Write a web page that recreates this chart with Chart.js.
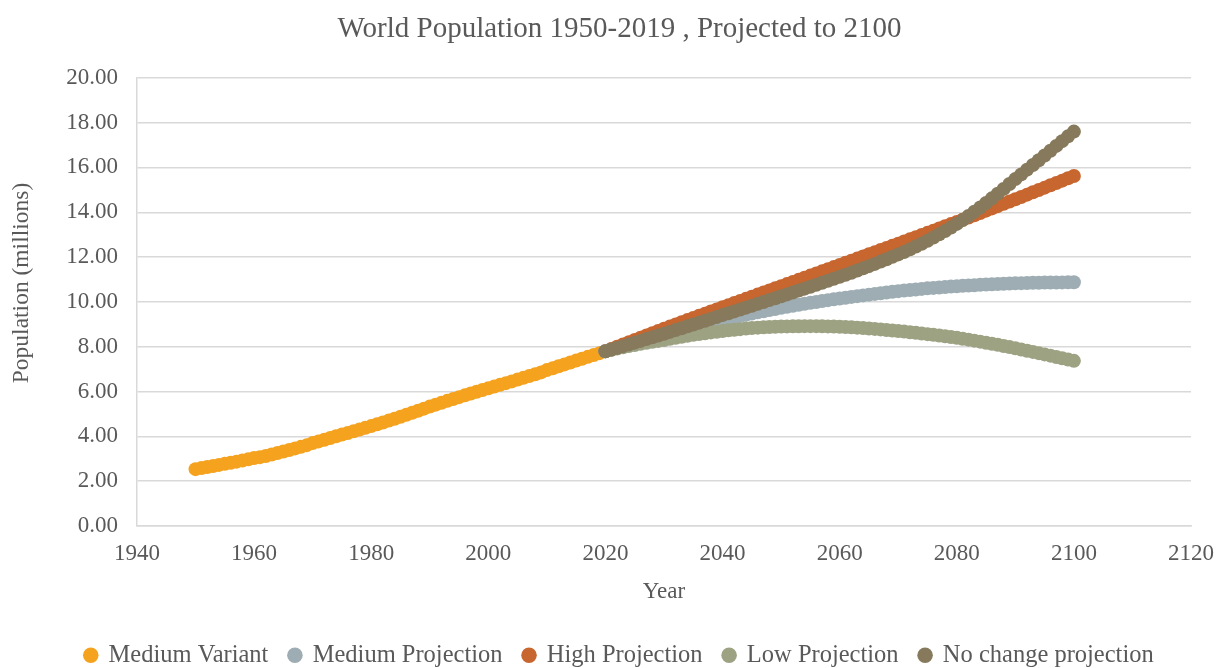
<!DOCTYPE html>
<html>
<head>
<meta charset="utf-8">
<title>World Population 1950-2019, Projected to 2100</title>
<script src="https://cdn.jsdelivr.net/npm/chart.js@4.4.1/dist/chart.umd.min.js"></script>
<style>
  html, body { margin: 0; padding: 0; background: #ffffff; }
  #wrap { width: 1219px; height: 668px; }
</style>
</head>
<body>
<div id="wrap"><canvas id="chart" width="1219" height="668"></canvas></div>
<script>
// World population in billions (UN estimates 1950-2019, projections 2020-2100)
const HIST_START = 1950;
const PROJ_START = 2020;

const mediumVariant = [
  2.536, 2.584, 2.631, 2.678, 2.726, 2.773, 2.822, 2.872, 2.923, 2.974,
  3.032, 3.073, 3.126, 3.190, 3.255, 3.322, 3.393, 3.462, 3.532, 3.607,
  3.700, 3.775, 3.851, 3.927, 4.003, 4.079, 4.153, 4.227, 4.302, 4.379,
  4.458, 4.538, 4.621, 4.704, 4.788, 4.874, 4.963, 5.054, 5.145, 5.237,
  5.327, 5.414, 5.500, 5.584, 5.668, 5.749, 5.830, 5.910, 5.989, 6.066,
  6.143, 6.221, 6.298, 6.375, 6.453, 6.532, 6.611, 6.691, 6.772, 6.853,
  6.957, 7.041, 7.126, 7.211, 7.296, 7.380, 7.464, 7.548, 7.631, 7.713
];

const mediumProjection = [
  7.795,
  7.875, 7.954, 8.031, 8.108, 8.184, 8.258, 8.332, 8.405, 8.477, 8.548,
  8.617, 8.686, 8.754, 8.821, 8.888, 8.951, 9.014, 9.076, 9.138, 9.199,
  9.257, 9.315, 9.372, 9.427, 9.482, 9.534, 9.586, 9.636, 9.686, 9.735,
  9.781, 9.827, 9.871, 9.915, 9.958, 9.998, 10.038, 10.077, 10.115, 10.152,
  10.187, 10.222, 10.256, 10.290, 10.324, 10.356, 10.388, 10.419, 10.450, 10.480,
  10.506, 10.531, 10.556, 10.580, 10.604, 10.624, 10.644, 10.663, 10.682, 10.700,
  10.716, 10.731, 10.746, 10.761, 10.775, 10.787, 10.798, 10.809, 10.819, 10.829,
  10.836, 10.843, 10.850, 10.856, 10.862, 10.865, 10.868, 10.871, 10.873, 10.875
];

const highProjection = [
  7.795,
  7.897, 7.999, 8.100, 8.201, 8.301, 8.401, 8.501, 8.601, 8.701, 8.800,
  8.898, 8.995, 9.092, 9.188, 9.284, 9.380, 9.475, 9.570, 9.665, 9.760,
  9.855, 9.949, 10.043, 10.137, 10.231, 10.325, 10.419, 10.513, 10.607, 10.700,
  10.794, 10.888, 10.983, 11.078, 11.173, 11.268, 11.363, 11.458, 11.554, 11.650,
  11.744, 11.838, 11.933, 12.028, 12.123, 12.218, 12.313, 12.408, 12.504, 12.600,
  12.696, 12.792, 12.888, 12.985, 13.082, 13.179, 13.276, 13.374, 13.472, 13.570,
  13.669, 13.769, 13.869, 13.970, 14.071, 14.172, 14.273, 14.375, 14.477, 14.580,
  14.683, 14.786, 14.890, 14.994, 15.098, 15.202, 15.306, 15.410, 15.515, 15.620
];

const lowProjection = [
  7.795,
  7.857, 7.917, 7.974, 8.028, 8.079, 8.128, 8.174, 8.218, 8.260, 8.300,
  8.352, 8.401, 8.447, 8.490, 8.530, 8.568, 8.604, 8.638, 8.670, 8.700,
  8.730, 8.758, 8.784, 8.808, 8.830, 8.850, 8.867, 8.881, 8.892, 8.900,
  8.907, 8.912, 8.916, 8.918, 8.918, 8.917, 8.913, 8.907, 8.899, 8.890,
  8.879, 8.866, 8.851, 8.834, 8.815, 8.795, 8.773, 8.749, 8.725, 8.700,
  8.674, 8.647, 8.619, 8.590, 8.560, 8.530, 8.499, 8.467, 8.434, 8.400,
  8.358, 8.315, 8.271, 8.226, 8.180, 8.132, 8.083, 8.033, 7.982, 7.930,
  7.877, 7.823, 7.768, 7.713, 7.657, 7.601, 7.544, 7.487, 7.429, 7.370
];

const noChangeProjection = [
  7.795,
  7.871, 7.948, 8.025, 8.103, 8.181, 8.260, 8.339, 8.419, 8.499, 8.580,
  8.661, 8.743, 8.825, 8.908, 8.991, 9.074, 9.158, 9.242, 9.326, 9.410,
  9.493, 9.576, 9.660, 9.744, 9.828, 9.912, 9.996, 10.080, 10.165, 10.250,
  10.335, 10.420, 10.506, 10.592, 10.679, 10.766, 10.854, 10.942, 11.031, 11.120,
  11.211, 11.304, 11.399, 11.496, 11.595, 11.696, 11.799, 11.904, 12.011, 12.120,
  12.230, 12.346, 12.468, 12.596, 12.730, 12.870, 13.015, 13.165, 13.320, 13.480,
  13.650, 13.830, 14.020, 14.215, 14.415, 14.620, 14.830, 15.043, 15.260, 15.480,
  15.690, 15.901, 16.112, 16.324, 16.536, 16.748, 16.961, 17.174, 17.387, 17.600
];

const seriesLabels = ['Medium Variant', 'Medium Projection', 'High Projection', 'Low Projection', 'No change projection'];
const seriesColors = ['#F5A21E', '#9EADB3', '#C8662F', '#9CA282', '#877A5C'];

const xTickMin = 1940, xTickMax = 2120, xTickStep = 20;
const yTickMin = 0, yTickMax = 20, yTickStep = 2;

const yAxisTitle = 'Population (millions)';

// pair consecutive years with the values
function toPoints(startYear, values) {
  return values.map((v, i) => ({ x: startYear + i, y: v }));
}

const seriesData = [
  toPoints(HIST_START, mediumVariant),
  toPoints(PROJ_START, mediumProjection),
  toPoints(PROJ_START, highProjection),
  toPoints(PROJ_START, lowProjection),
  toPoints(PROJ_START, noChangeProjection)
];

const TEXT = '#595959';
const GRID = '#D9D9D9';
const FONT = "'Liberation Serif', 'Times New Roman', serif";

const datasets = seriesLabels.map((label, i) => ({
  label: label,
  data: seriesData[i],
  backgroundColor: seriesColors[i],
  borderColor: seriesColors[i],
  borderWidth: 0,
  pointRadius: 7,
  pointHoverRadius: 7,
  showLine: false,
  // later series are painted over earlier ones
  order: seriesLabels.length - i
}));

// vertical axis caption, drawn rotated beside the value axis
const yCaption = {
  id: 'yCaption',
  afterDraw(chart) {
    const ctx = chart.ctx;
    ctx.save();
    ctx.translate(22, 283);
    ctx.rotate(-Math.PI / 2);
    ctx.font = "23.5px " + FONT;
    ctx.fillStyle = TEXT;
    ctx.textAlign = 'center';
    ctx.textBaseline = 'middle';
    ctx.fillText(yAxisTitle, 0, 0);
    ctx.restore();
  }
};

new Chart(document.getElementById('chart'), {
  type: 'scatter',
  data: { datasets: datasets },
  plugins: [yCaption],
  options: {
    responsive: false,
    animation: false,
    events: [],
    layout: { padding: { left: 20, right: 0, top: 0, bottom: -9.5 } },
    plugins: {
      title: {
        display: true,
        text: 'World Population 1950-2019 , Projected to 2100',
        color: TEXT,
        font: { family: FONT, size: 29, weight: 'normal', lineHeight: 1.2 },
        padding: { top: 12, bottom: 31 }
      },
      legend: {
        display: true,
        position: 'bottom',
        labels: {
          color: TEXT,
          font: { family: FONT, size: 24.5 },
          usePointStyle: true,
          pointStyle: 'circle',
          boxWidth: 11,
          boxHeight: 11,
          padding: 21,
          sort: (a, b) => a.datasetIndex - b.datasetIndex
        }
      },
      tooltip: { enabled: false }
    },
    scales: {
      x: {
        type: 'linear',
        position: 'bottom',
        min: xTickMin,
        max: xTickMax,
        afterFit: (s) => { s.height = 96; },
        ticks: {
          stepSize: xTickStep,
          color: TEXT,
          font: { family: FONT, size: 23, lineHeight: 2.1 },
          padding: 4,
          maxRotation: 0,
          callback: (v) => String(v)
        },
        grid: { display: false, drawTicks: false },
        border: { display: true, color: GRID, width: 1.5 },
        title: {
          display: true,
          text: 'Year',
          color: TEXT,
          font: { family: FONT, size: 23, lineHeight: 1.2 },
          padding: { top: 0, bottom: 16 }
        }
      },
      y: {
        type: 'linear',
        position: 'left',
        min: yTickMin,
        max: yTickMax,
        afterFit: (s) => { s.width = 117; },
        ticks: {
          stepSize: yTickStep,
          color: TEXT,
          font: { family: FONT, size: 23 },
          padding: 19,
          callback: (v) => Number(v).toFixed(2)
        },
        grid: { color: GRID, lineWidth: 1.5, drawTicks: false },
        border: { display: true, color: GRID, width: 1.5 },
        title: { display: false }
      },
      // empty right-hand gutter so the plot ends where the 2120 tick sits
      gutter: {
        type: 'linear',
        position: 'right',
        display: true,
        afterFit: (s) => { s.width = 28; },
        ticks: { display: false },
        grid: { display: false, drawTicks: false },
        border: { display: false }
      }
    }
  }
});
</script>
</body>
</html>
